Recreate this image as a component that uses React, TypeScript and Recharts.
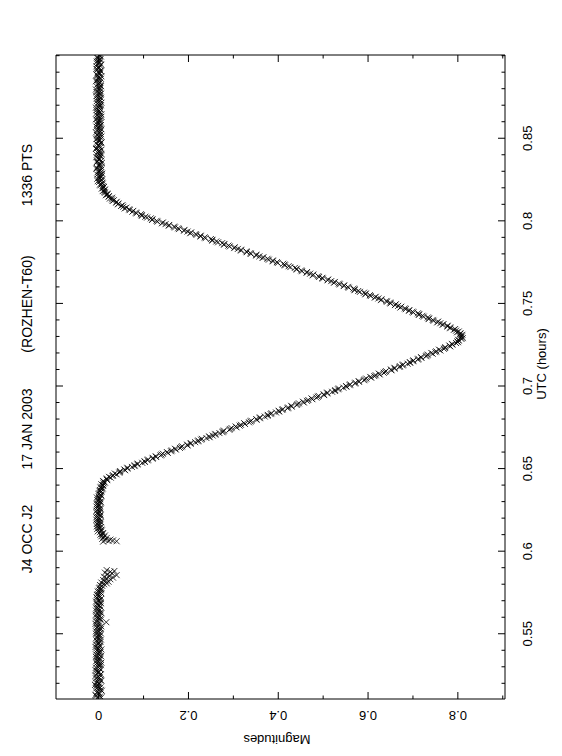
import React from 'react';
import { ScatterChart, Scatter, XAxis, YAxis } from 'recharts';

// ---------- data (UTC hours, magnitudes) ----------
const baselineEarly: [number, number][] = [
  [0.511,-0.004],[0.512,0.003],[0.513,-0.007],[0.514,0.001],[0.515,-0.002],[0.516,0.005],[0.517,-0.005],[0.518,0.000],
  [0.519,-0.008],[0.520,0.002],[0.521,-0.003],[0.522,0.004],[0.523,-0.006],[0.524,-0.001],[0.525,0.003],[0.526,-0.004],
  [0.527,0.001],[0.528,-0.007],[0.529,0.002],[0.530,-0.002],[0.531,0.005],[0.532,-0.005],[0.533,0.000],[0.534,-0.003],
  [0.535,0.003],[0.536,-0.006],[0.537,0.001],[0.538,-0.002],[0.539,0.004],[0.540,-0.004],[0.541,0.000],[0.542,-0.007],
  [0.543,0.002],[0.544,-0.001],[0.545,0.004],[0.546,-0.005],[0.547,0.001],[0.548,-0.003],[0.549,0.003],[0.550,-0.006],
  [0.551,0.000],[0.552,-0.002],[0.553,0.005],[0.554,-0.004],[0.555,0.001],[0.556,-0.007],[0.557,0.017],[0.558,-0.003],
  [0.559,0.003],[0.560,-0.005],[0.561,0.001],[0.562,-0.002],[0.563,0.004],[0.564,-0.006],[0.565,0.000],[0.566,-0.003],
  [0.567,0.002],[0.568,-0.004],[0.569,0.003],[0.570,-0.001],[0.571,0.005],[0.572,-0.005],[0.573,0.001],[0.574,-0.002],
  [0.575,0.004],[0.576,0.000],[0.577,0.006],[0.578,0.003],
];
const baselineEarlyMid: [number, number][] = [
  [0.5115,0.006],[0.5125,-0.006],[0.5135,0.002],[0.5145,-0.004],[0.5155,0.007],[0.5165,-0.001],[0.5175,0.004],[0.5185,-0.005],
  [0.5195,0.001],[0.5205,-0.006],[0.5215,0.006],[0.5225,-0.002],[0.5235,0.002],[0.5245,-0.007],[0.5255,0.005],[0.5265,0.000],
  [0.5275,-0.004],[0.5285,0.004],[0.5295,-0.006],[0.5305,0.002],[0.5315,-0.001],[0.5325,0.006],[0.5335,-0.005],[0.5345,0.003],
  [0.5355,-0.003],[0.5365,0.005],[0.5375,-0.006],[0.5385,0.002],[0.5395,-0.002],[0.5405,0.006],[0.5415,-0.004],[0.5425,0.003],
  [0.5435,-0.006],[0.5445,0.000],[0.5455,-0.003],[0.5465,0.005],[0.5475,-0.005],[0.5485,0.002],[0.5495,-0.001],[0.5505,0.004],
  [0.5515,-0.006],[0.5525,0.003],[0.5535,-0.003],[0.5545,0.006],[0.5555,-0.004],[0.5565,0.002],[0.5575,-0.006],[0.5585,0.005],
  [0.5595,-0.002],[0.5605,0.003],[0.5615,-0.006],[0.5625,0.006],[0.5635,-0.001],[0.5645,0.003],[0.5655,-0.005],[0.5665,0.004],
  [0.5675,-0.002],[0.5685,0.005],[0.5695,-0.006],[0.5705,0.002],[0.5715,-0.003],[0.5725,0.004],[0.5735,-0.004],[0.5745,0.006],
  [0.5755,-0.002],[0.5765,0.004],[0.5775,0.001],
];
const bumpEarly: [number, number][] = [
  [0.579,0.008],[0.5795,0.003],[0.580,0.012],[0.5805,0.018],[0.581,0.006],[0.5815,0.022],[0.582,0.015],[0.5825,0.010],
  [0.583,0.026],[0.5835,0.018],[0.584,0.032],[0.5845,0.012],[0.585,0.024],[0.5855,0.040],[0.586,0.020],[0.5865,0.030],
  [0.587,0.014],[0.5875,0.026],[0.588,0.035],[0.5885,0.018],
];
const preIngress: [number, number][] = [
  [0.6058,0.010],[0.6060,0.040],[0.6062,0.022],[0.6065,0.032],[0.6068,0.015],[0.607,0.026],[0.6075,0.008],[0.608,0.018],
  [0.6085,0.012],[0.609,0.006],[0.6095,0.014],[0.610,0.004],[0.611,0.010],[0.612,-0.002],[0.613,0.006],[0.614,0.001],
  [0.615,-0.004],[0.616,0.004],[0.617,-0.002],[0.618,0.003],[0.619,-0.005],[0.620,0.001],[0.621,-0.003],[0.622,0.004],
  [0.623,-0.004],[0.624,0.002],[0.625,-0.002],[0.626,0.003],[0.627,-0.005],[0.628,0.001],[0.629,-0.002],[0.630,0.004],
  [0.631,-0.003],[0.632,0.002],[0.633,0.000],[0.634,0.005],[0.635,0.001],[0.636,0.006],[0.637,0.003],[0.638,0.009],
  [0.639,0.006],
];
const preIngressMid: [number, number][] = [
  [0.6105,0.009],[0.6115,0.003],[0.6125,0.007],[0.6135,-0.003],[0.6145,0.005],[0.6155,0.000],[0.6165,-0.004],[0.6175,0.005],
  [0.6185,-0.002],[0.6195,0.003],[0.6205,-0.005],[0.6215,0.004],[0.6225,-0.001],[0.6235,0.003],[0.6245,-0.005],[0.6255,0.004],
  [0.6265,-0.002],[0.6275,0.002],[0.6285,-0.004],[0.6295,0.005],[0.6305,-0.001],[0.6315,0.003],[0.6325,-0.004],[0.6335,0.006],
  [0.6345,0.000],[0.6355,0.004],[0.6365,0.002],[0.6375,0.007],[0.6385,0.004],[0.6395,0.010],
];
const ingress: [number, number][] = [
  [0.6400,0.010],[0.6405,0.006],[0.6410,0.011],[0.6415,0.014],[0.6420,0.011],[0.6425,0.010],[0.6430,0.019],[0.6435,0.018],
  [0.6440,0.018],[0.6445,0.027],[0.6450,0.023],[0.6455,0.031],[0.6460,0.032],[0.6465,0.040],[0.6470,0.036],[0.6475,0.046],
  [0.6480,0.047],[0.6485,0.048],[0.6490,0.059],[0.6495,0.057],[0.6500,0.064],[0.6505,0.064],[0.6510,0.074],[0.6515,0.080],
  [0.6520,0.080],[0.6525,0.086],[0.6530,0.087],[0.6535,0.097],[0.6540,0.103],[0.6545,0.102],[0.6550,0.109],[0.6555,0.110],
  [0.6560,0.120],[0.6565,0.121],[0.6570,0.128],[0.6575,0.127],[0.6580,0.138],[0.6585,0.140],[0.6590,0.143],[0.6595,0.154],
  [0.6600,0.152],[0.6605,0.161],[0.6610,0.163],[0.6615,0.172],[0.6620,0.170],[0.6625,0.181],[0.6630,0.184],[0.6635,0.186],
  [0.6640,0.198],[0.6645,0.197],[0.6650,0.205],[0.6655,0.205],[0.6660,0.215],[0.6665,0.221],[0.6670,0.222],[0.6675,0.228],
  [0.6680,0.230],[0.6685,0.240],[0.6690,0.247],[0.6695,0.246],[0.6700,0.254],[0.6705,0.260],[0.6710,0.260],[0.6715,0.269],
  [0.6720,0.276],[0.6725,0.277],[0.6730,0.279],[0.6735,0.291],[0.6740,0.293],[0.6745,0.296],[0.6750,0.307],[0.6755,0.305],
  [0.6760,0.314],[0.6765,0.317],[0.6770,0.326],[0.6775,0.324],[0.6780,0.335],[0.6785,0.338],[0.6790,0.340],[0.6795,0.352],
  [0.6800,0.351],[0.6805,0.359],[0.6810,0.359],[0.6815,0.370],[0.6820,0.376],[0.6825,0.377],[0.6830,0.383],[0.6835,0.385],
  [0.6840,0.395],[0.6845,0.402],[0.6850,0.401],[0.6855,0.409],[0.6860,0.410],[0.6865,0.421],[0.6870,0.422],[0.6875,0.430],
  [0.6880,0.429],[0.6885,0.441],[0.6890,0.443],[0.6895,0.446],[0.6900,0.457],[0.6905,0.455],[0.6910,0.464],[0.6915,0.467],
  [0.6920,0.476],[0.6925,0.474],[0.6930,0.485],[0.6935,0.488],[0.6940,0.490],[0.6945,0.502],[0.6950,0.501],[0.6955,0.509],
  [0.6960,0.509],[0.6965,0.520],[0.6970,0.526],[0.6975,0.527],[0.6980,0.533],[0.6985,0.535],[0.6990,0.545],[0.6995,0.552],
  [0.7000,0.551],[0.7005,0.559],[0.7010,0.560],[0.7015,0.571],[0.7020,0.572],[0.7025,0.580],[0.7030,0.579],[0.7035,0.591],
  [0.7040,0.593],[0.7045,0.596],[0.7050,0.607],[0.7055,0.605],[0.7060,0.614],[0.7065,0.617],[0.7070,0.626],[0.7075,0.624],
  [0.7080,0.635],[0.7085,0.638],[0.7090,0.640],[0.7095,0.652],[0.7100,0.651],[0.7105,0.659],[0.7110,0.659],[0.7115,0.670],
  [0.7120,0.671],[0.7125,0.677],[0.7130,0.678],[0.7135,0.688],[0.7140,0.694],[0.7145,0.693],[0.7150,0.700],[0.7155,0.701],
  [0.7160,0.711],[0.7165,0.712],[0.7170,0.719],[0.7175,0.718],[0.7180,0.729],[0.7185,0.731],[0.7190,0.733],[0.7195,0.744],
  [0.7200,0.741],[0.7205,0.750],[0.7210,0.752],[0.7215,0.761],[0.7220,0.758],[0.7225,0.769],[0.7230,0.771],[0.7235,0.772],
  [0.7240,0.783],[0.7245,0.781],[0.7250,0.788],[0.7255,0.787],[0.7260,0.796],[0.7265,0.800],[0.7270,0.799],[0.7275,0.802],
  [0.7280,0.801],[0.7285,0.808],[0.7290,0.811],[0.7295,0.806],[0.7300,0.809],[0.7305,0.805],[0.7310,0.810],[0.7315,0.805],
  [0.7320,0.806],[0.7325,0.798],[0.7330,0.802],[0.7335,0.796],[0.7340,0.791],[0.7345,0.794],[0.7350,0.783],[0.7355,0.783],
  [0.7360,0.777],[0.7365,0.777],[0.7370,0.766],[0.7375,0.768],[0.7380,0.761],[0.7385,0.754],[0.7390,0.756],[0.7395,0.746],
];
const egress: [number, number][] = [
  [0.7400,0.744],[0.7405,0.735],[0.7410,0.736],[0.7415,0.733],[0.7420,0.724],[0.7425,0.721],[0.7430,0.713],[0.7435,0.714],
  [0.7440,0.711],[0.7445,0.701],[0.7450,0.699],[0.7455,0.691],[0.7460,0.692],[0.7465,0.684],[0.7470,0.682],[0.7475,0.672],
  [0.7480,0.674],[0.7485,0.667],[0.7490,0.660],[0.7495,0.662],[0.7500,0.650],[0.7505,0.649],[0.7510,0.642],[0.7515,0.641],
  [0.7520,0.629],[0.7525,0.630],[0.7530,0.623],[0.7535,0.615],[0.7540,0.617],[0.7545,0.606],[0.7550,0.604],[0.7555,0.594],
  [0.7560,0.595],[0.7565,0.591],[0.7570,0.582],[0.7575,0.578],[0.7580,0.570],[0.7585,0.570],[0.7590,0.568],[0.7595,0.557],
  [0.7600,0.555],[0.7605,0.546],[0.7610,0.547],[0.7615,0.537],[0.7620,0.535],[0.7625,0.524],[0.7630,0.526],[0.7635,0.518],
  [0.7640,0.510],[0.7645,0.511],[0.7650,0.499],[0.7655,0.498],[0.7660,0.491],[0.7665,0.489],[0.7670,0.477],[0.7675,0.478],
  [0.7680,0.471],[0.7685,0.463],[0.7690,0.464],[0.7695,0.453],[0.7700,0.451],[0.7705,0.441],[0.7710,0.441],[0.7715,0.437],
  [0.7720,0.427],[0.7725,0.423],[0.7730,0.415],[0.7735,0.414],[0.7740,0.411],[0.7745,0.399],[0.7750,0.397],[0.7755,0.388],
  [0.7760,0.388],[0.7765,0.379],[0.7770,0.376],[0.7775,0.365],[0.7780,0.367],[0.7785,0.358],[0.7790,0.351],[0.7795,0.351],
  [0.7800,0.339],[0.7805,0.338],[0.7810,0.330],[0.7815,0.329],[0.7820,0.317],[0.7825,0.317],[0.7830,0.310],[0.7835,0.302],
  [0.7840,0.303],[0.7845,0.292],[0.7850,0.289],[0.7855,0.279],[0.7860,0.280],[0.7865,0.275],[0.7870,0.266],[0.7875,0.262],
  [0.7880,0.253],[0.7885,0.253],[0.7890,0.250],[0.7895,0.238],[0.7900,0.236],[0.7905,0.227],[0.7910,0.227],[0.7915,0.218],
  [0.7920,0.216],[0.7925,0.204],[0.7930,0.206],[0.7935,0.198],[0.7940,0.190],[0.7945,0.191],[0.7950,0.179],[0.7955,0.177],
  [0.7960,0.170],[0.7965,0.168],[0.7970,0.156],[0.7975,0.157],[0.7980,0.149],[0.7985,0.141],[0.7990,0.143],[0.7995,0.131],
  [0.8000,0.129],[0.8005,0.119],[0.8010,0.120],[0.8015,0.116],[0.8020,0.108],[0.8025,0.104],[0.8030,0.096],[0.8035,0.096],
  [0.8040,0.094],[0.8045,0.084],[0.8050,0.083],[0.8055,0.075],[0.8060,0.077],[0.8065,0.069],[0.8070,0.068],[0.8075,0.058],
  [0.8080,0.062],[0.8085,0.055],[0.8090,0.050],[0.8095,0.053],[0.8100,0.043],[0.8105,0.044],[0.8110,0.039],[0.8115,0.040],
  [0.8120,0.031],[0.8125,0.034],[0.8130,0.030],[0.8135,0.025],[0.8140,0.030],[0.8145,0.022],[0.8150,0.023],[0.8155,0.016],
  [0.8160,0.020],[0.8165,0.019],[0.8170,0.014],[0.8175,0.013],[0.8180,0.009],[0.8185,0.013],[0.8190,0.014],[0.8195,0.007],
  [0.8200,0.010],
];
const baselineLate: [number, number][] = [
  [0.821,0.010],[0.822,0.003],[0.823,0.008],[0.824,-0.002],[0.825,0.006],[0.826,0.001],[0.827,0.007],[0.828,-0.003],
  [0.829,0.004],[0.830,0.000],[0.831,0.006],[0.832,-0.004],[0.833,0.003],[0.834,0.001],[0.835,0.007],[0.836,-0.003],
  [0.837,0.002],[0.838,-0.001],[0.839,0.005],[0.840,-0.004],[0.841,0.003],[0.842,0.000],[0.843,0.006],[0.844,-0.005],
  [0.845,0.002],[0.846,-0.001],[0.847,0.005],[0.848,-0.003],[0.849,0.003],[0.850,-0.002],[0.851,0.006],[0.852,-0.004],
  [0.853,0.001],[0.854,0.004],[0.855,-0.003],[0.856,0.002],[0.857,-0.005],[0.858,0.005],[0.859,0.000],[0.860,-0.003],
  [0.861,0.004],[0.862,-0.002],[0.863,0.006],[0.864,-0.004],[0.865,0.001],[0.866,0.003],[0.867,-0.005],[0.868,0.002],
  [0.869,-0.001],[0.870,0.005],[0.871,-0.003],[0.872,0.001],[0.873,0.004],[0.874,-0.004],[0.875,0.002],[0.876,-0.002],
  [0.877,0.005],[0.878,-0.005],[0.879,0.001],[0.880,0.003],[0.881,-0.003],[0.882,0.004],[0.883,-0.001],[0.884,0.002],
  [0.885,-0.004],[0.886,0.005],[0.887,0.000],[0.888,-0.003],[0.889,0.003],[0.890,-0.002],[0.891,0.004],[0.892,-0.005],
  [0.893,0.001],[0.894,0.003],[0.895,-0.003],[0.896,0.002],[0.897,-0.001],[0.898,0.004],[0.899,-0.004],[0.900,0.002],
];
const baselineLateMid: [number, number][] = [
  [0.8205,0.012],[0.8215,0.004],[0.8225,0.009],[0.8235,0.001],[0.8245,0.007],[0.8255,-0.003],[0.8265,0.005],[0.8275,0.002],
  [0.8285,0.008],[0.8295,-0.002],[0.8305,0.004],[0.8315,-0.005],[0.8325,0.006],[0.8335,-0.001],[0.8345,0.003],[0.8355,-0.004],
  [0.8365,0.006],[0.8375,0.001],[0.8385,-0.005],[0.8395,0.003],[0.8405,0.006],[0.8415,-0.003],[0.8425,0.002],[0.8435,-0.006],
  [0.8445,0.004],[0.8455,0.000],[0.8465,-0.004],[0.8475,0.006],[0.8485,0.001],[0.8495,-0.005],[0.8505,0.003],[0.8515,-0.002],
  [0.8525,0.005],[0.8535,-0.006],[0.8545,0.002],[0.8555,0.006],[0.8565,-0.002],[0.8575,0.003],[0.8585,-0.004],[0.8595,0.005],
  [0.8605,0.001],[0.8615,-0.006],[0.8625,0.003],[0.8635,-0.002],[0.8645,0.006],[0.8655,-0.004],[0.8665,0.001],[0.8675,0.004],
  [0.8685,-0.006],[0.8695,0.003],[0.8705,-0.001],[0.8715,0.006],[0.8725,-0.004],[0.8735,0.002],[0.8745,0.005],[0.8755,-0.005],
  [0.8765,0.003],[0.8775,0.000],[0.8785,0.004],[0.8795,-0.006],[0.8805,0.002],[0.8815,0.005],[0.8825,-0.003],[0.8835,0.003],
  [0.8845,-0.006],[0.8855,0.001],[0.8865,-0.002],[0.8875,0.006],[0.8885,-0.004],[0.8895,0.002],[0.8905,0.005],[0.8915,-0.003],
  [0.8925,0.001],[0.8935,-0.005],[0.8945,0.006],[0.8955,0.000],[0.8965,-0.004],[0.8975,0.003],[0.8985,-0.002],[0.8995,0.005],
];

const utcTicks = [0.52,0.53,0.54,0.55,0.56,0.57,0.58,0.59,0.60,0.61,0.62,0.63,0.64,0.65,0.66,0.67,0.68,0.69,0.70,
  0.71,0.72,0.73,0.74,0.75,0.76,0.77,0.78,0.79,0.80,0.81,0.82,0.83,0.84,0.85,0.86,0.87,0.88,0.89,0.90];
const utcLabels = ['0.55','0.6','0.65','0.7','0.75','0.8','0.85'];
const magTicks = [0,0.1,0.2,0.3,0.4,0.5,0.6,0.7,0.8,0.9];
const magLabels = ['0','0.2','0.4','0.6','0.8'];

const titleParts = ['J4 OCC J2','17 JAN 2003','(ROZHEN-T60)','1336 PTS'];
const xTitle = 'UTC (hours)';
const yTitle = 'Magnitudes';

const utcDomain: [number, number] = [0.5105, 0.9004];
const magDomain: [number, number] = [-0.095, 0.905];

const points = [
  ...baselineEarly, ...baselineEarlyMid, ...bumpEarly, ...preIngress, ...preIngressMid,
  ...ingress, ...egress, ...baselineLate, ...baselineLateMid,
].map(([utc, mag]) => ({ utc, mag }));

// ---------- styling ----------
const W = 756;
const H = 562;
const FONT = '"Liberation Sans", Arial, Helvetica, sans-serif';
const INK = '#000';
const MAJ = 7;
const MIN = 3.5;

const fmt = (v: number) => String(Math.round(v * 1000) / 1000);

const Cross = (p: any) => {
  const { cx, cy } = p;
  if (cx == null || cy == null || isNaN(cx) || isNaN(cy)) return <g />;
  const s = 3;
  return (
    <path
      d={`M${cx - s},${cy - s}L${cx + s},${cy + s}M${cx - s},${cy + s}L${cx + s},${cy - s}`}
      stroke={INK}
      strokeWidth={0.8}
      fill="none"
    />
  );
};
const Nothing = () => <g />;

const BottomTick = (p: any) => {
  const { x, y, payload } = p;
  const label = fmt(payload.value);
  const major = utcLabels.includes(label);
  return (
    <g>
      <line x1={x} y1={y} x2={x} y2={y - (major ? MAJ : MIN)} stroke={INK} strokeWidth={1} />
      {major && (
        <text x={x} y={y + 27} textAnchor="middle" fontFamily={FONT} fontSize={13} fill={INK}>
          {label}
        </text>
      )}
    </g>
  );
};
const TopTick = (p: any) => {
  const { x, y, payload } = p;
  const major = utcLabels.includes(fmt(payload.value));
  return <line x1={x} y1={y} x2={x} y2={y + (major ? MAJ : MIN)} stroke={INK} strokeWidth={1} />;
};
const LeftTick = (p: any) => {
  const { x, y, payload } = p;
  const label = fmt(payload.value);
  const major = magLabels.includes(label);
  const lx = x - 12;
  return (
    <g>
      <line x1={x} y1={y} x2={x + (major ? MAJ : MIN)} y2={y} stroke={INK} strokeWidth={1} />
      {major && (
        <text x={lx} y={y} transform={`rotate(-90, ${lx}, ${y})`} textAnchor="middle" fontFamily={FONT} fontSize={13} fill={INK}>
          {label}
        </text>
      )}
    </g>
  );
};
const RightTick = (p: any) => {
  const { x, y, payload } = p;
  const major = magLabels.includes(fmt(payload.value));
  return <line x1={x} y1={y} x2={x - (major ? MAJ : MIN)} y2={y} stroke={INK} strokeWidth={1} />;
};

const axisLine = { stroke: INK, strokeWidth: 1 };

export default function App() {
  const titleX = [217, 327, 452, 581];
  return (
    <div style={{ position: 'absolute', left: 0, top: 0, width: H, height: W, overflow: 'hidden', background: '#fff' }}>
      <div
        style={{
          position: 'absolute',
          left: 0,
          top: 0,
          width: W,
          height: H,
          transformOrigin: '0 0',
          transform: `translateY(${W}px) rotate(-90deg)`,
        }}
      >
        <ScatterChart width={W} height={H} margin={{ top: 46, right: 45, bottom: 27, left: 37 }}>
          <XAxis
            xAxisId="b"
            dataKey="utc"
            type="number"
            domain={utcDomain}
            allowDataOverflow
            ticks={utcTicks}
            interval={0}
            height={30}
            tickSize={0}
            tickMargin={0}
            tickLine={false}
            axisLine={axisLine}
            tick={(p: any) => <BottomTick {...p} />}
          />
          <XAxis
            xAxisId="t"
            orientation="top"
            dataKey="utc"
            type="number"
            domain={utcDomain}
            allowDataOverflow
            ticks={utcTicks}
            interval={0}
            height={10}
            tickSize={0}
            tickMargin={0}
            tickLine={false}
            axisLine={axisLine}
            tick={(p: any) => <TopTick {...p} />}
          />
          <YAxis
            yAxisId="l"
            dataKey="mag"
            type="number"
            domain={magDomain}
            reversed
            allowDataOverflow
            ticks={magTicks}
            interval={0}
            width={20}
            tickSize={0}
            tickMargin={0}
            tickLine={false}
            axisLine={axisLine}
            tick={(p: any) => <LeftTick {...p} />}
          />
          <YAxis
            yAxisId="r"
            orientation="right"
            dataKey="mag"
            type="number"
            domain={magDomain}
            reversed
            allowDataOverflow
            ticks={magTicks}
            interval={0}
            width={10}
            tickSize={0}
            tickMargin={0}
            tickLine={false}
            axisLine={axisLine}
            tick={(p: any) => <RightTick {...p} />}
          />
          <Scatter xAxisId="t" yAxisId="r" data={points} shape={(p: any) => <Nothing {...p} />} isAnimationActive={false} />
          <Scatter xAxisId="b" yAxisId="l" data={points} shape={(p: any) => <Cross {...p} />} isAnimationActive={false} />
        </ScatterChart>
        <svg
          width={W}
          height={H}
          style={{ position: 'absolute', left: 0, top: 0, pointerEvents: 'none' }}
        >
          {titleParts.map((t, i) => (
            <text key={t} x={titleX[i]} y={32} textAnchor="middle" fontFamily={FONT} fontSize={14} fill={INK}>
              {t}
            </text>
          ))}
          <text x={392} y={546} textAnchor="middle" fontFamily={FONT} fontSize={13} fill={INK}>
            {xTitle}
          </text>
          <text x={21} y={277} transform="rotate(-90, 21, 277)" textAnchor="middle" fontFamily={FONT} fontSize={13} fill={INK}>
            {yTitle}
          </text>
        </svg>
      </div>
    </div>
  );
}
